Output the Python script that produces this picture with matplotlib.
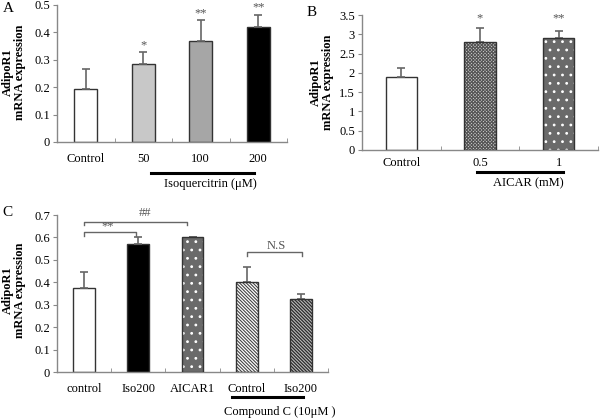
import numpy as np
import matplotlib
matplotlib.use("Agg")
import matplotlib.pyplot as plt
import matplotlib.transforms as mtransforms
from matplotlib.ticker import FuncFormatter

plt.rcParams['font.family'] = ['Liberation Serif', 'DejaVu Serif']
plt.rcParams['hatch.linewidth'] = 0.8

# ---- data ----
a_labels = ["Control", "50", "100", "200"]
a_values = [0.195, 0.284, 0.370, 0.420]
a_errors = [0.073, 0.044, 0.075, 0.045]
a_stars = ["", "*", "**", "**"]

b_labels = ["Control", "0.5", "1"]
b_values = [1.88, 2.80, 2.90]
b_errors = [0.24, 0.37, 0.18]
b_stars = ["", "*", "**"]

c_labels = ["control", "Iso200", "AICAR1", "Control", "Iso200"]
c_values = [0.375, 0.572, 0.600, 0.402, 0.327]
c_errors = [0.073, 0.028, 0.003, 0.068, 0.021]

W, H = 600, 419
fig = plt.figure(figsize=(6.0, 4.19), dpi=100)


def px_axes(l, r, b, t):
    return fig.add_axes([l / W, 1 - b / H, (r - l) / W, (b - t) / H])


def style(ax, n, ymax, step):
    for s in ["top", "right"]:
        ax.spines[s].set_visible(False)
    for s in ["left", "bottom"]:
        ax.spines[s].set_color("#888888")
        ax.spines[s].set_linewidth(1.0)
    ax.set_xlim(-0.5, n - 0.5)
    ax.set_ylim(0, ymax)
    ax.set_yticks(np.arange(0, ymax + step / 2, step))
    ax.yaxis.set_major_formatter(FuncFormatter(lambda v, p: "%g" % round(v, 2)))
    ax.set_xticks(np.arange(n))
    ax.set_xticks(np.arange(-0.5, n, 1.0), minor=True)
    ax.tick_params(axis="x", which="major", length=0, pad=8, labelsize=9)
    ax.tick_params(axis="x", which="minor", length=3, color="#888888", direction="in")
    ax.tick_params(axis="y", length=3, color="#888888", labelsize=9, pad=2)


def errbars(ax, vals, errs):
    ax.errorbar(np.arange(len(vals)), vals, yerr=[np.zeros(len(vals)), errs],
                fmt="none", ecolor="#666666", elinewidth=1.2, capsize=3, capthick=1.2)


def ylab(x, y):
    fig.text(x / W, 1 - y / H, "AdipoR1\nmRNA expression", rotation=90,
             ha="center", va="center", fontsize=9, fontweight="bold", linespacing=1.0)


def underline(ax, x0, x1, yl, label, xt, yt):
    tr = mtransforms.blended_transform_factory(ax.transData, ax.transAxes)
    ax.plot([x0, x1], [yl, yl], color="black", lw=2.2, transform=tr, clip_on=False)
    ax.text(xt, yt, label, transform=tr, ha="center", va="center", fontsize=9)


def patterned(ax, x, v, face, hatch, hcolor):
    ax.bar(x, v, width=0.4, color=face, edgecolor=hcolor, hatch=hatch, linewidth=0, zorder=2)
    ax.bar(x, v, width=0.4, fill=False, edgecolor="#333333", linewidth=1.0, zorder=3)


# ---- panel A ----
axA = px_axes(57, 287, 142, 5)
style(axA, 4, 0.5, 0.1)
axA.bar(np.arange(4), a_values, width=0.4,
        color=["white", "#c8c8c8", "#a6a6a6", "black"], edgecolor="#333333", linewidth=1.0, zorder=2)
errbars(axA, a_values, a_errors)
axA.set_xticklabels(a_labels)
for i, s in enumerate(a_stars):
    if s:
        axA.text(i, a_values[i] + a_errors[i] + 0.025, s, ha="center", va="center",
                 fontsize=9, color="#555555", clip_on=False)
underline(axA, 1.13, 2.93, -0.226, "Isoquercitrin (\u03bcM)", 2.16, -0.307)
ylab(14, 72)
fig.text(3 / W, 1 - 9 / H, "A", fontsize=11, va="center")

# ---- panel B ----
axB = px_axes(362, 598, 150, 15)
style(axB, 3, 3.5, 0.5)
axB.bar(0, b_values[0], width=0.4, color="white", edgecolor="#333333", linewidth=1.0, zorder=2)
patterned(axB, 1, b_values[1], "#d0d0d0", "xxxxxxxxxx", "#555555")
patterned(axB, 2, b_values[2], "#6a6a6a", "..", "white")
errbars(axB, b_values, b_errors)
axB.set_xticklabels(b_labels)
axB.tick_params(axis="x", which="major", pad=5)
for i, s in enumerate(b_stars):
    if s:
        axB.text(i, 3.42, s, ha="center", va="center", fontsize=9, color="#555555", clip_on=False)
underline(axB, 0.96, 2.05, -0.163, "AICAR (mM)", 1.61, -0.244)
ylab(322, 82)
fig.text(307 / W, 1 - 13 / H, "B", fontsize=11, va="center")

# ---- panel C ----
axC = px_axes(57, 328, 372, 215)
style(axC, 5, 0.7, 0.1)
axC.bar(0, c_values[0], width=0.4, color="white", edgecolor="#333333", linewidth=1.0, zorder=2)
axC.bar(1, c_values[1], width=0.4, color="black", edgecolor="#333333", linewidth=1.0, zorder=2)
patterned(axC, 2, c_values[2], "#6a6a6a", "..", "white")
patterned(axC, 3, c_values[3], "white", "\\" * 10, "#444444")
patterned(axC, 4, c_values[4], "#2a2a2a", "\\" * 10, "#bbbbbb")
errbars(axC, c_values, c_errors)
axC.set_xticklabels(c_labels)


def bracket(ax, x0, x1, y, drop, label, lx, ly):
    ax.plot([x0, x0, x1, x1], [y - drop, y, y, y - drop], color="#666666", lw=1.0, clip_on=False)
    ax.text(lx, ly, label, ha="center", va="center", fontsize=9, color="#555555", clip_on=False)


bracket(axC, 0.0, 1.9, 0.67, 0.015, "##", 1.12, 0.71)
bracket(axC, 0.0, 0.95, 0.624, 0.017, "**", 0.44, 0.648)
bracket(axC, 3.0, 4.02, 0.536, 0.02, "N.S", 3.55, 0.560)
underline(axC, 2.73, 4.04, -0.159, "Compound C (10\u03bcM )", 3.61, -0.255)
ylab(14, 290)
fig.text(2 / W, 1 - 212 / H, "C", fontsize=11, va="center")

fig.savefig("out.png", dpi=100)
